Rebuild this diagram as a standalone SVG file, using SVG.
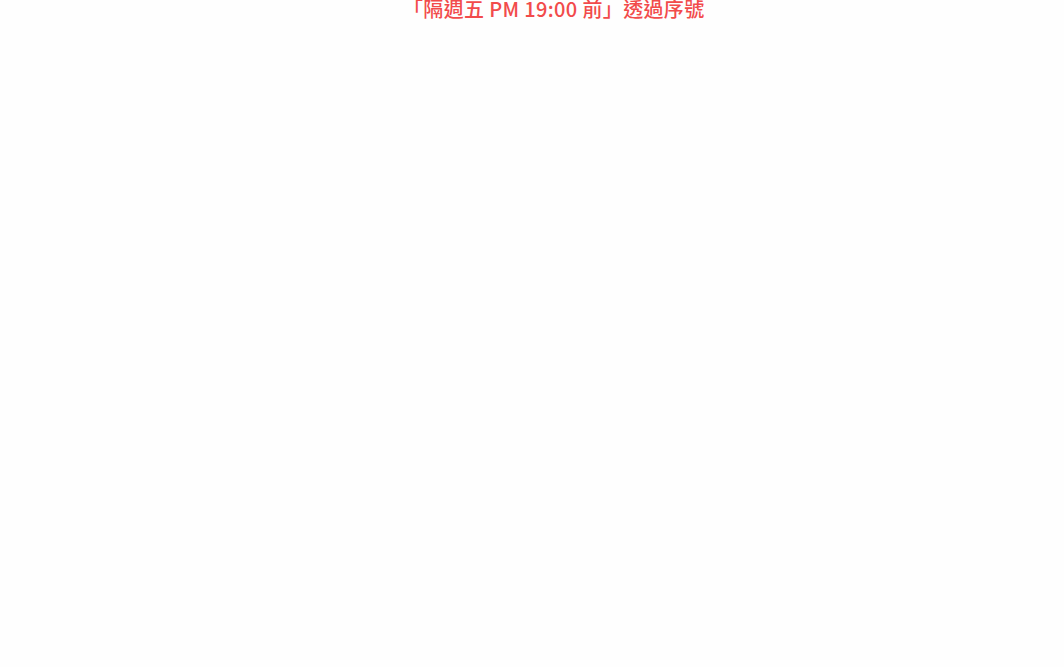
<svg xmlns="http://www.w3.org/2000/svg" width="1064" height="667" viewBox="0 0 1064 667">
<style>
.title{font-family:"Noto Sans CJK TC","Noto Sans",sans-serif;font-size:20px;font-weight:500;fill:#f24b4b;letter-spacing:0.8px}
</style>
<rect width="1064" height="667" fill="#fefefe"/>
<g id="title">
<text class="title" x="554" y="17" text-anchor="middle" textLength="302" lengthAdjust="spacing">「隔週五 PM 19:00 前」透過序號</text>
</g>
</svg>
